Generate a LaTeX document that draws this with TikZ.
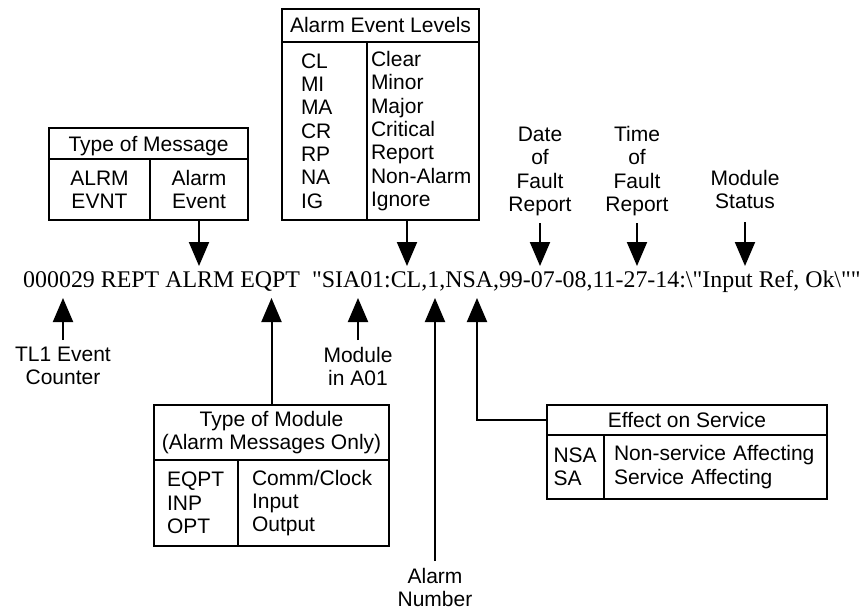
\documentclass[tikz,border=0pt]{standalone}
\usepackage{fontspec}
\setmainfont{Liberation Serif}
\setsansfont{Liberation Sans}
\newfontfamily\msgfont{Liberation Serif}
\usepackage{tikz}
\usetikzlibrary{arrows.meta, positioning}
\newcommand{\lblfont}{\sffamily\fontsize{21}{23.3}\selectfont}
\tikzstyle{box} = [rectangle, draw=black, line width=2pt, anchor=north west, outer sep=0pt, inner sep=0pt, font=\lblfont]
\tikzstyle{head} = [box, align=center, text height=15pt, text depth=0pt]
\tikzstyle{cell} = [box, align=left]
\tikzstyle{note} = [font=\lblfont, align=center, inner sep=7pt]
\tikzstyle{msgline} = [anchor=base west, inner sep=0pt, font=\msgfont\fontsize{23.9}{28}\selectfont]
\tikzstyle{arrow} = [line width=2pt, -{Triangle[length=24pt, width=20pt]}]

\begin{document}
\begin{tikzpicture}[x=1pt, y=-1pt]
	\useasboundingbox (0,0) rectangle (867,610);

	\node (msg) [msgline] at (23,287) {000029 REPT ALRM EQPT\ \ "SIA01:CL,1,NSA,99-07-08,11-27-14:\textbackslash"Input Ref, Ok\textbackslash""};
	\coordinate (atCount) at (63,298);
	\coordinate (atALRM) at (199,266);
	\coordinate (atEQPT) at (271.5,298);
	\coordinate (atSIA) at (358,298);
	\coordinate (atCL) at (407,266);
	\coordinate (atNum) at (435,298);
	\coordinate (atNSA) at (477,298);
	\coordinate (atDate) at (540,266);
	\coordinate (atTime) at (637,266);
	\coordinate (atStat) at (745,266);

	% tables
	\node (msghead) [head, minimum width=199pt, minimum height=31pt] at (49,128) {Type of Message};
	\node (msgcode) [cell, align=center, minimum width=101pt, minimum height=61pt] at (msghead.south west) {ALRM\\EVNT};
	\node (msgtext) [cell, align=center, minimum width=98pt, minimum height=61pt] at (msgcode.north east) {Alarm\\Event};

	\node (lvlhead) [head, minimum width=197pt, minimum height=33pt] at (282,9) {Alarm Event Levels};
	\node (lvlcode) [cell, text width=47pt, inner xsep=19pt, minimum height=178pt] at (lvlhead.south west) {CL\\MI\\MA\\CR\\RP\\NA\\IG};
	\node (lvltext) [cell, text width=104pt, inner xsep=4pt, minimum height=178pt] at (lvlcode.north east) {Clear\\Minor\\Major\\Critical\\Report\\\mbox{Non-Alarm}\\Ignore};

	\node (modhead) [box, align=center, minimum width=235pt, minimum height=55pt] at (154,405) {Type of Module\\(Alarm Messages Only)};
	\node (modcode) [cell, text width=58pt, inner xsep=13pt, minimum height=86pt] at (modhead.south west) {EQPT\\INP\\OPT};
	\node (modtext) [cell, text width=123pt, inner xsep=14pt, minimum height=86pt] at (modcode.north east) {Comm/Clock\\Input\\Output};

	\node (effhead) [head, minimum width=280pt, minimum height=30pt] at (547,405) {Effect on Service};
	\node (effcode) [cell, text width=44pt, inner xsep=6.5pt, minimum height=64pt] at (effhead.south west) {NSA\\SA};
	\node (efftext) [cell, text width=203pt, inner xsep=10pt, minimum height=64pt] at (effcode.north east) {Non-service Affecting\\Service Affecting};

	% labels
	\node (date) [note, above=43pt of atDate] {Date\\of\\Fault\\Report};
	\node (time) [note, above=43pt of atTime] {Time\\of\\Fault\\Report};
	\node (stat) [note, above=50pt of atStat] {Module\\Status};
	\node (count) [note, below=42pt of atCount] {TL1 Event\\Counter};
	\node (sia) [note, below=42pt of atSIA] {Module\\in A01};
	\node (num) [note, below=263pt of atNum] {Alarm\\Number};

	\draw [arrow] (msgtext) -- (atALRM);
	\draw [arrow] (lvltext.south -| atCL) -- (atCL);
	\draw [arrow] (date) -- (atDate);
	\draw [arrow] (time) -- (atTime);
	\draw [arrow, shorten <=6pt] (stat) -- (atStat);
	\draw [arrow] (count) -- (atCount);
	\draw [arrow] (modhead) -- (atEQPT);
	\draw [arrow] (sia) -- (atSIA);
	\draw [arrow] (num) -- (atNum);
	\draw [arrow] (effhead.west) -| (atNSA);
\end{tikzpicture}
\end{document}
